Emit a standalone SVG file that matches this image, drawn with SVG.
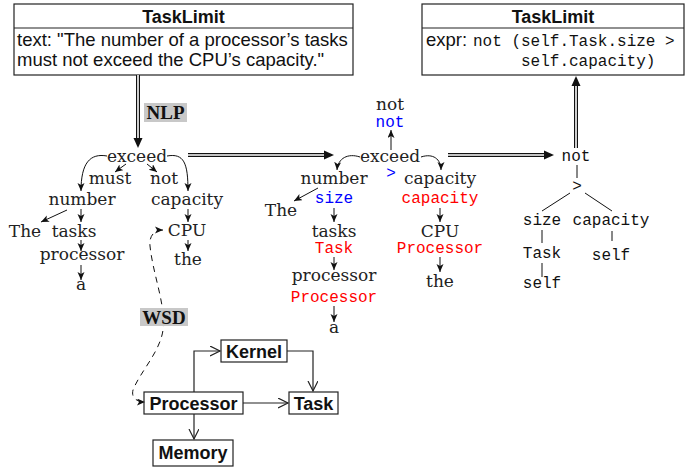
<svg xmlns="http://www.w3.org/2000/svg" width="694" height="468" viewBox="0 0 694 468">
  <defs>
    <style>
      .box { fill: #fff; stroke: #222; stroke-width: 1.2; }
      .sep { stroke: #222; stroke-width: 1.2; }
      .title { font-family: "Liberation Sans", Arial, sans-serif; font-weight: bold; font-size: 18px; text-anchor: middle; fill: #111; }
      .sans { font-family: "Liberation Sans", Arial, sans-serif; font-size: 18.5px; fill: #111; }
      .serif { font-family: "DejaVu Serif", "Liberation Serif", serif; font-size: 17px; text-anchor: middle; fill: #222; }
      .mono { font-family: "Liberation Mono", "DejaVu Sans Mono", monospace; font-size: 16px; fill: #111; }
      .mid { text-anchor: middle; }
      .blue { fill: #0000ff; }
      .red { fill: #ff0000; }
      .lbl { fill: #c8c8c8; }
      .lbltxt { font-family: "Liberation Serif", "DejaVu Serif", serif; font-weight: bold; font-size: 19px; text-anchor: middle; fill: #111; }
      .dep { fill: none; stroke: #111; stroke-width: 1; marker-end: url(#tip); }
      .tree { fill: none; stroke: #111; stroke-width: 1; }
      .dbl-out { fill: none; stroke: #111; stroke-width: 4; }
      .dbl-in { fill: none; stroke: #fff; stroke-width: 1.6; }
      .head { fill: #111; }
      .assoc { fill: none; stroke: #222; stroke-width: 1.2; marker-end: url(#open); }
      .wsd { fill: none; stroke: #111; stroke-width: 1; stroke-dasharray: 6 5; }
    </style>
    <marker id="tip" markerUnits="userSpaceOnUse" markerWidth="9" markerHeight="8" refX="8" refY="3.5" orient="auto">
      <path d="M0,0 L8,3.5 L0,7 L2,3.5 z" fill="#111"/>
    </marker>
    <marker id="tipstart" markerUnits="userSpaceOnUse" markerWidth="9" markerHeight="8" refX="0" refY="3.5" orient="auto">
      <path d="M8,0 L0,3.5 L8,7 L6,3.5 z" fill="#111"/>
    </marker>
    <marker id="open" markerUnits="userSpaceOnUse" markerWidth="12" markerHeight="12" refX="10" refY="5" orient="auto">
      <path d="M0,0 L10,5 L0,10" fill="none" stroke="#222" stroke-width="1.2"/>
    </marker>
  </defs>

  <!-- Natural-language constraint -->
  <g id="tasklimit-text">
    <rect class="box" x="14" y="4" width="339" height="71"/>
    <line class="sep" x1="14" y1="28" x2="353" y2="28"/>
    <text class="title" x="183.5" y="23">TaskLimit</text>
    <text class="sans" x="17" y="46">text: "The number of a processor’s tasks</text>
    <text class="sans" x="17" y="66">must not exceed the CPU’s capacity."</text>
  </g>

  <!-- Formal constraint -->
  <g id="tasklimit-expr">
    <rect class="box" x="422" y="4" width="262" height="71"/>
    <line class="sep" x1="422" y1="28" x2="684" y2="28"/>
    <text class="title" x="553" y="23">TaskLimit</text>
    <text class="sans" x="426" y="46">expr:</text>
    <text class="mono" x="473" y="46">not (self.Task.size &gt;</text>
    <text class="mono" x="521" y="66">self.capacity)</text>
  </g>

  <!-- Dependency parse -->
  <g id="parse-tree">
    <text class="serif" x="137" y="162">exceed</text>
    <text class="serif" x="110" y="184">must</text>
    <text class="serif" x="164" y="184">not</text>
    <text class="serif" x="82" y="205">number</text>
    <text class="serif" x="187" y="205">capacity</text>
    <text class="serif" x="25" y="237">The</text>
    <text class="serif" x="74" y="237">tasks</text>
    <text class="serif" x="187" y="236">CPU</text>
    <text class="serif" x="82" y="260">processor</text>
    <text class="serif" x="188" y="265">the</text>
    <text class="serif" x="81" y="290">a</text>
  </g>

  <!-- Annotated parse -->
  <g id="annotated-tree">
    <text class="serif" x="390" y="110">not</text>
    <text class="mono mid blue" x="390" y="127">not</text>
    <text class="serif" x="390" y="162">exceed</text>
    <text class="mono mid blue" x="391" y="178">&gt;</text>
    <text class="serif" x="334" y="184">number</text>
    <text class="serif" x="440" y="184">capacity</text>
    <text class="mono mid red" x="440" y="203">capacity</text>
    <text class="serif" x="281" y="216">The</text>
    <text class="mono mid blue" x="334" y="203">size</text>
    <text class="serif" x="334" y="237">tasks</text>
    <text class="mono mid red" x="334" y="253">Task</text>
    <text class="serif" x="440" y="237">CPU</text>
    <text class="mono mid red" x="440" y="253">Processor</text>
    <text class="serif" x="334" y="281">processor</text>
    <text class="mono mid red" x="334" y="302">Processor</text>
    <text class="serif" x="440" y="287">the</text>
    <text class="serif" x="334" y="333">a</text>
  </g>

  <!-- Expression tree -->
  <g id="expr-tree">
    <text class="mono mid" x="576" y="161">not</text>
    <text class="mono mid" x="577" y="191">&gt;</text>
    <text class="mono mid" x="542" y="225">size</text>
    <text class="mono mid" x="611" y="225">capacity</text>
    <text class="mono mid" x="542" y="258">Task</text>
    <text class="mono mid" x="611" y="260">self</text>
    <text class="mono mid" x="542" y="288">self</text>
  </g>

  <!-- Domain model -->
  <g id="kernel">
    <rect class="box" x="221" y="340" width="66" height="22"/>
    <text class="title" x="254" y="358">Kernel</text>
  </g>
  <g id="processor">
    <rect class="box" x="144" y="392" width="99" height="22"/>
    <text class="title" x="193.5" y="410">Processor</text>
  </g>
  <g id="task">
    <rect class="box" x="289" y="392" width="49" height="22"/>
    <text class="title" x="313.5" y="410">Task</text>
  </g>
  <g id="memory">
    <rect class="box" x="153" y="440" width="80" height="26"/>
    <text class="title" x="193" y="459">Memory</text>
  </g>

  <g id="connectors">
    <!-- transformation arrows -->
    <path class="dbl-out" d="M138 75 V139"/>
    <path class="dbl-in" d="M138 75 V140"/>
    <path class="head" d="M133.5 138 L142.5 138 L138 148 z"/>

    <path class="dbl-out" d="M188 155 H325"/>
    <path class="dbl-in" d="M188 155 H326"/>
    <path class="head" d="M324 150.5 L334 155 L324 159.5 z"/>

    <path class="dbl-out" d="M448 155 H545"/>
    <path class="dbl-in" d="M448 155 H546"/>
    <path class="head" d="M544 150.5 L554 155 L544 159.5 z"/>

    <path class="dbl-out" d="M576 148 V85"/>
    <path class="dbl-in" d="M576 148 V84"/>
    <path class="head" d="M571.5 86 L580.5 86 L576 76 z"/>

    <!-- parse dependencies -->
    <path class="dep" d="M107 156 C90 153 81 163 81 191"/>
    <path class="dep" d="M167 156 C184 153 188 163 188 191"/>
    <path class="dep" d="M126 164 L115 172"/>
    <path class="dep" d="M147 164 L157 172"/>
    <path class="dep" d="M67 210 L41 222"/>
    <path class="dep" d="M81 209 V222"/>
    <path class="dep" d="M81 240 V251"/>
    <path class="dep" d="M81 265 V280"/>
    <path class="dep" d="M188 209 V222"/>
    <path class="dep" d="M188 240 V251"/>

    <!-- annotated dependencies -->
    <path class="dep" d="M391 150 V130"/>
    <path class="dep" d="M360 157 C348 153 338 158 337 170"/>
    <path class="dep" d="M421 157 C433 153 441 159 441 170"/>
    <path class="dep" d="M318 188 L294 201"/>
    <path class="dep" d="M334 208 V222"/>
    <path class="dep" d="M334 257 V270"/>
    <path class="dep" d="M334 306 V322"/>
    <path class="dep" d="M440 208 V222"/>
    <path class="dep" d="M440 257 V272"/>

    <!-- expression tree edges -->
    <path class="tree" d="M577 165 V178"/>
    <path class="tree" d="M570 193 L542 211"/>
    <path class="tree" d="M585 193 L612 211"/>
    <path class="tree" d="M542 230 V243"/>
    <path class="tree" d="M612 231 V241"/>
    <path class="tree" d="M542 263 V277"/>

    <!-- word-sense disambiguation link -->
    <path class="wsd" d="M163 230 C154 230 149 236 150 246 C153 275 166 305 163 330 C160 352 140 372 133 390 C131 398 137 402 145 402" marker-start="url(#tipstart)" marker-end="url(#tip)"/>

    <!-- domain associations -->
    <path class="assoc" d="M194 392 V351 H220"/>
    <path class="assoc" d="M287 351 H313 V391"/>
    <path class="assoc" d="M243 403 H288"/>
    <path class="assoc" d="M194 414 V439"/>
  </g>

  <!-- step labels -->
  <g id="label-nlp">
    <rect class="lbl" x="144" y="103" width="43" height="19"/>
    <text class="lbltxt" x="165.5" y="118.5">NLP</text>
  </g>
  <g id="label-wsd">
    <rect class="lbl" x="140" y="308" width="48" height="18"/>
    <text class="lbltxt" x="164" y="323.5">WSD</text>
  </g>
</svg>
